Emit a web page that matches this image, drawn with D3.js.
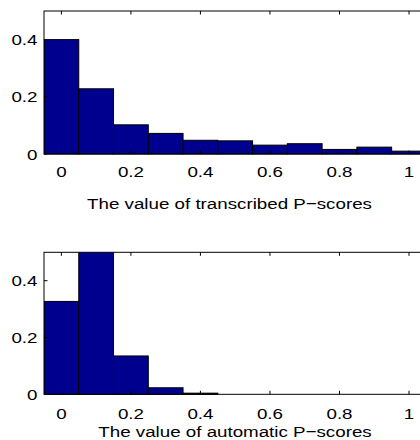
<!DOCTYPE html>
<html><head><meta charset="utf-8">
<script src="https://cdn.jsdelivr.net/npm/d3@7"></script>
<style>
html,body{margin:0;padding:0;background:#fff;}
svg{display:block;}
text{font-family:"Liberation Sans",Arial,sans-serif;font-size:15.5px;fill:#000;}
</style></head><body>
<script>
// Bin centres (histogram bins of width 0.1)
const binCenters = [0, 0.1, 0.2, 0.3, 0.4, 0.5, 0.6, 0.7, 0.8, 0.9, 1.0];
const transcribedValues = [0.400, 0.228, 0.102, 0.072, 0.048, 0.046, 0.031, 0.036, 0.016, 0.024, 0.010];
const automaticValues   = [0.327, 0.510, 0.135, 0.023, 0.004, 0, 0, 0, 0, 0, 0];
const xTicks = [0, 0.2, 0.4, 0.6, 0.8, 1];
const yTicks = [0, 0.2, 0.4];
const xLabels = ["The value of transcribed P\u2212scores", "The value of automatic P\u2212scores"];

const W = 420, H = 440;
const SX = 1.21; // horizontal stretch of text in the reference
const svg = d3.select("body").append("svg").attr("width", W).attr("height", H);

const panels = [
  {values: transcribedValues, label: xLabels[0], top: 11, bottom: 154, tickBase: 177, labelBase: 209, labelX: 229.5},
  {values: automaticValues,   label: xLabels[1], top: 252.3, bottom: 394.3, tickBase: 418.5, labelBase: 436.5, labelX: 235}
];

function addText(g, x, y, anchor, str) {
  g.append("text").attr("transform", `translate(${x},${y}) scale(${SX},1)`)
    .attr("text-anchor", anchor).text(str);
}

panels.forEach((p, i) => {
  const x = d3.scaleLinear().domain([-0.05, 1.05]).range([44, 426.4]);
  const y = d3.scaleLinear().domain([0, 0.5]).range([p.bottom, p.top]);
  const g = svg.append("g");
  const clipId = "clip" + i;
  g.append("clipPath").attr("id", clipId).append("rect")
    .attr("x", x(-0.05)).attr("y", y(0.5)).attr("width", x(1.05) - x(-0.05)).attr("height", y(0) - y(0.5) + 1);
  const bw = 0.1;
  g.append("g").attr("clip-path", `url(#${clipId})`)
    .selectAll("rect").data(binCenters.map((c, k) => ({c, v: p.values[k]})))
    .enter().append("rect")
    .attr("x", d => x(d.c - bw / 2))
    .attr("width", d => x(d.c + bw / 2) - x(d.c - bw / 2))
    .attr("y", d => y(d.v))
    .attr("height", d => y(0) - y(d.v))
    .attr("fill", "#00008F")
    .attr("stroke", "#000")
    .attr("stroke-width", 1);

  // box
  g.append("rect").attr("x", x(-0.05)).attr("y", y(0.5))
    .attr("width", x(1.05) - x(-0.05)).attr("height", y(0) - y(0.5))
    .attr("fill", "none").attr("stroke", "#000").attr("stroke-width", 1);

  // inward ticks on bottom and top
  const tl = 3.5;
  xTicks.forEach(t => {
    g.append("line").attr("x1", x(t)).attr("x2", x(t)).attr("y1", y(0)).attr("y2", y(0) - tl).attr("stroke", "#000");
    g.append("line").attr("x1", x(t)).attr("x2", x(t)).attr("y1", y(0.5)).attr("y2", y(0.5) + tl).attr("stroke", "#000");
    addText(g, x(t), p.tickBase, "middle", d3.format("")(t));
  });
  yTicks.forEach(t => {
    g.append("line").attr("x1", x(-0.05)).attr("x2", x(-0.05) + tl).attr("y1", y(t)).attr("y2", y(t)).attr("stroke", "#000");
    g.append("line").attr("x1", x(1.05)).attr("x2", x(1.05) - tl).attr("y1", y(t)).attr("y2", y(t)).attr("stroke", "#000");
    addText(g, 37.5, y(t) + 5.5, "end", d3.format("")(t));
  });
  addText(g, p.labelX, p.labelBase, "middle", p.label);
});
</script>
</body></html>
